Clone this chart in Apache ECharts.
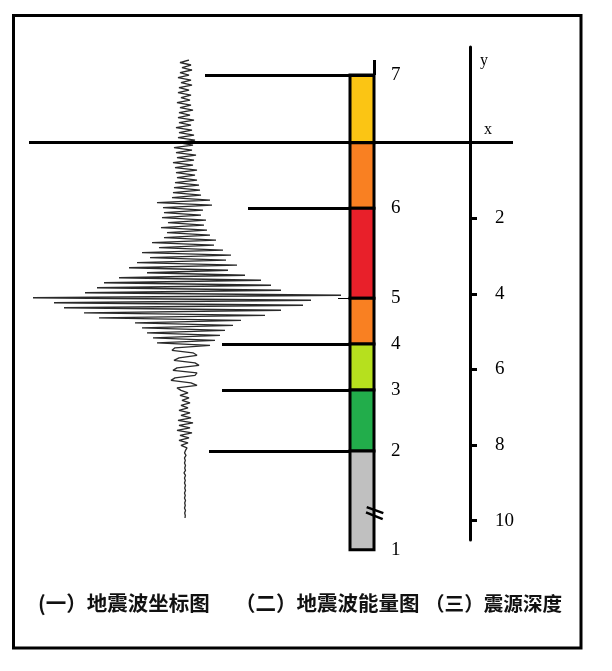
<!DOCTYPE html>
<html><head><meta charset="utf-8">
<script src="https://cdn.jsdelivr.net/npm/echarts@6/dist/echarts.min.js"></script>
<style>html,body{margin:0;padding:0;background:#fff}#c{width:612px;height:671px}</style>
</head><body><div id="c"></div>
<script>
// ---------- DATA ----------
// seismogram samples (amplitude, left/right of the trace centre), top to bottom
const waveAmp = [
  4,-5,6,-3,7,-5,4,-7,6,-4,7,-6,4,-7,6,-4,5,-8,6,-5,8,-6,5,-7,9,-6,6,-9,7,-6,9,-7,
  10,-7,8,-11,7,-9,11,-8,9,-12,8,-10,12,-9,10,-8,12,-10,
  14,-11,15,-12,16,-13,
  25,-28,27,-22,
  18,-21,16,-23,21,-17,19,-24,22,-18,25,-21,
  31,-33,29,-26,
  38,-43,46,-35,41,-48,52,-56,43,-38,
  60,-66,76,-81,
  86,-88,96,-100,
  156,-152,
  126,-131,118,-121,
  96,-101,80,-86,
  56,-50,48,-43,40,-38,
  35,-32,30,-28,25,
  -10,-13,8,12,-6,-11,10,14,-8,-12,12,10,-10,-14,6,12,-8,
  -4,3,-5,4,-3,5,-4,3,-6,5,-4,6,-7,8,-6,5,-8,7,-5,4,-6,3,-4,2,
  0.5,-0.5,1,-0.5,0.3,-0.5,0.5,-0.3,0.5,-1,0.5,-0.5,0.3,-0.5,0.5,-0.3,0.5,-0.5,0.3,-0.5,0.5,-0.3,0.3,-0.5,0.5,-0.3,0.3,0
];
// energy levels and where they sit on the shared vertical (depth) scale
const levelNames = ['7','6','5','4','3','2','1'];
const levelPos   = [-1.79, 1.735, 4.116, 5.325, 6.54, 8.156, 10.77];
// energy bar segments (boundaries on the same scale) and colours
const segmentBounds = [-1.79, 0, 1.735, 4.116, 5.325, 6.54, 8.156, 10.77];
const segmentColors = ['#fbc514','#f98022','#e8202a','#f98022','#b6e01e','#22ad4b','#c0c0c0'];
// where each leader line leaves the trace (amplitude units), levels 7..2
const leaderFrom = [20, 63, 153, 37, 37, 24];
// depth axis
const depthTicks = [2, 4, 6, 8, 10];
const axisLetters = [{t:'y', d:-2.17, x:299}, {t:'x', d:-0.33, x:303}];
const titles = ['(一）地震波坐标图', '（二）地震波能量图', '（三）震源深度'];

// ---------- LAYOUT ----------
const ZERO = 142.7, PPU = 37.8;          // px of depth 0, px per depth unit
const D_MIN = -2.6, D_MAX = 11;
const gTop = ZERO + D_MIN * PPU, gH = (D_MAX - D_MIN) * PPU;
const X_MIN = -156, X_MAX = 328;         // trace centre at x=185px
const BAR_X0 = 165, BAR_X1 = 189;
const dAxisMin = (47 - ZERO) / PPU, dAxisMax = (540 - ZERO) / PPU;
const serif = 'Liberation Serif';
const cjk = {fontFamily: 'Noto Sans CJK SC', fontWeight: 'bold', color: '#111'};

const chart = echarts.init(document.getElementById('c'), null, {renderer: 'canvas'});

const segData = [];
for (let i = 0; i < segmentColors.length; i++) segData.push([segmentBounds[i], segmentBounds[i+1], i]);

const leaderLines = leaderFrom.map((x0, i) => ({
  coords: [[x0, levelPos[i]], [i === 0 ? BAR_X1 : BAR_X0, levelPos[i]]],
  lineStyle: {width: i === 2 ? 1.2 : 3}
}));
const extraLines = [
  {coords: [[X_MIN, 0], [X_MAX, 0]], lineStyle: {width: 3}},
  {coords: [[BAR_X1, (60 - ZERO) / PPU], [BAR_X1, levelPos[0]]], lineStyle: {width: 3}},
  {coords: [[181.7, 9.64], [198.3, 9.80]], lineStyle: {width: 2.5}},
  {coords: [[181, 9.78], [197.7, 9.96]], lineStyle: {width: 2.5}}
];

chart.setOption({
  animation: false,
  backgroundColor: '#fff',
  title: [
    {text: titles[0], left: 38, top: 593, padding: 0, textStyle: Object.assign({fontSize: 20.5}, cjk)},
    {text: titles[1], left: 235, top: 593, padding: 0, textStyle: Object.assign({fontSize: 20.5}, cjk)},
    {text: titles[2], left: 425, top: 593.5, padding: 0, textStyle: Object.assign({fontSize: 19.6}, cjk)}
  ],
  graphic: [{type: 'rect', shape: {x: 13.5, y: 15.5, width: 567.5, height: 632.5}, style: {fill: null, stroke: '#000', lineWidth: 3}, silent: true}],
  grid: [
    {left: 29, width: X_MAX - X_MIN, top: gTop, height: gH},
    {left: 29, width: X_MAX - X_MIN, top: 60, height: 458},
    {left: 470, width: 40, top: 47, height: 493}
  ],
  xAxis: [
    {gridIndex: 0, type: 'value', min: X_MIN, max: X_MAX, show: false},
    {gridIndex: 1, type: 'value', min: X_MIN, max: X_MAX, show: false},
    {gridIndex: 2, type: 'value', min: 0, max: 1, show: false}
  ],
  yAxis: [
    {gridIndex: 0, type: 'value', min: D_MIN, max: D_MAX, inverse: true, show: false},
    {gridIndex: 1, type: 'category', data: waveAmp.map((_, i) => i), inverse: true, boundaryGap: false, show: false},
    {gridIndex: 2, type: 'value', min: dAxisMin, max: dAxisMax, inverse: true,
      axisLine: {show: true, lineStyle: {color: '#000', width: 3}},
      axisTick: {show: true, inside: true, length: 7, lineStyle: {color: '#000', width: 3}, customValues: depthTicks},
      axisLabel: {show: true, inside: true, margin: 25, customValues: depthTicks, color: '#000', fontFamily: serif, fontSize: 19},
      splitLine: {show: false}}
  ],
  series: [
    {type: 'line', xAxisIndex: 1, yAxisIndex: 1, data: waveAmp, symbol: 'none',
      lineStyle: {color: '#2a2a2a', width: 1.3}, z: 2},
    {type: 'custom', xAxisIndex: 0, yAxisIndex: 0, data: segData, z: 3,
      renderItem: (params, api) => {
        const p0 = api.coord([BAR_X0, api.value(0)]);
        const p1 = api.coord([BAR_X1, api.value(1)]);
        return {type: 'rect', shape: {x: p0[0], y: Math.min(p0[1], p1[1]), width: p1[0] - p0[0], height: Math.abs(p1[1] - p0[1])},
          style: {fill: segmentColors[api.value(2)], stroke: '#000', lineWidth: 3}};
      }},
    {type: 'lines', coordinateSystem: 'cartesian2d', xAxisIndex: 0, yAxisIndex: 0, z: 4,
      lineStyle: {color: '#000', opacity: 1}, data: leaderLines.concat(extraLines)},
    {type: 'scatter', xAxisIndex: 0, yAxisIndex: 0, symbolSize: 0, z: 5, itemStyle: {opacity: 1},
      data: levelPos.map((p, i) => [206, p, levelNames[i]]),
      label: {show: true, position: 'right', distance: 0, formatter: p => p.data[2], color: '#000', fontFamily: serif, fontSize: 19}},
    {type: 'scatter', xAxisIndex: 0, yAxisIndex: 0, symbolSize: 0, z: 5, itemStyle: {opacity: 1},
      data: axisLetters.map(a => [a.x, a.d, a.t]),
      label: {show: true, position: 'inside', formatter: p => p.data[2], color: '#000', fontFamily: serif, fontSize: 16}}
  ]
});
</script></body></html>
